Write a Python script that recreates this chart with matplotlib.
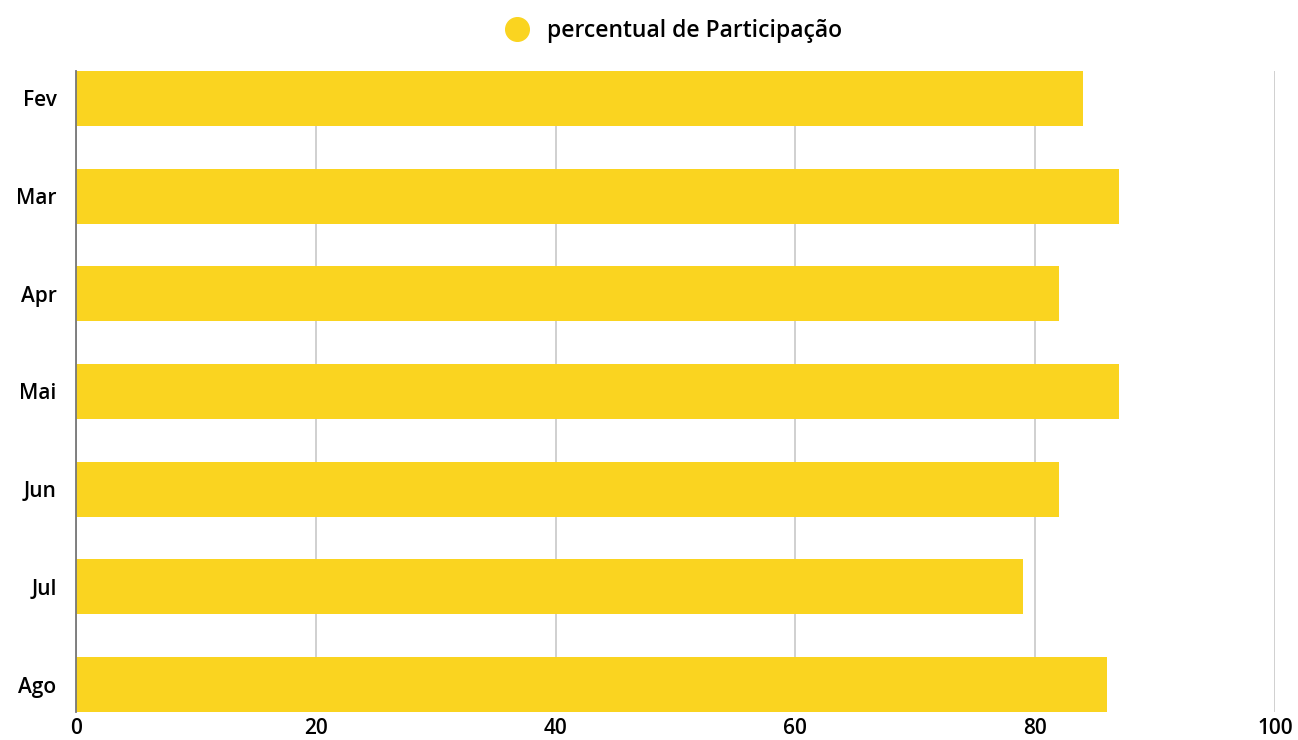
import matplotlib
matplotlib.use('Agg')
import matplotlib.pyplot as plt
from matplotlib.lines import Line2D

meses = ['Fev', 'Mar', 'Apr', 'Mai', 'Jun', 'Jul', 'Ago']
participacao = [84, 87, 82, 87, 82, 79, 86]
xticks = [0, 20, 40, 60, 80, 100]

COR = '#FAD420'
plt.rcParams['font.family'] = ['Open Sans', 'DejaVu Sans']

fig = plt.figure(figsize=(12.98, 7.40), dpi=100)
ax = fig.add_axes([76/1298, 1-712/740, (1275-76)/1298, (712-71)/740])

h = 0.563
y = list(range(len(meses)))
ax.barh(y, participacao, height=h, color=COR, zorder=3)
ax.set_ylim(len(meses)-1+h/2, -h/2)
ax.set_xlim(0, 100)
ax.set_xticks(xticks)
ax.set_xticklabels([str(t) for t in xticks], fontsize=15, fontweight='semibold')
ax.set_yticks(y)
ax.set_yticklabels(meses, fontsize=15, fontweight='semibold')
ax.tick_params(axis='y', length=0, pad=14)
ax.tick_params(axis='x', length=0, pad=4)
ax.grid(axis='x', color='#c8c8c8', lw=1.2, zorder=0)
for s in ['top', 'right', 'bottom']:
    ax.spines[s].set_visible(False)
ax.spines['left'].set_color('#777777')
ax.spines['left'].set_linewidth(1.3)
ax.spines['left'].set_zorder(4)

handle = Line2D([], [], marker='o', ls='', color=COR, markersize=17)
fig.legend([handle], ['percentual de Participação'], loc='center',
           bbox_to_anchor=(0.515, 1-31/740), frameon=False, handletextpad=0.3,
           prop={'size': 16.5, 'weight': 'semibold'})

fig.savefig('out.png', dpi=100)
